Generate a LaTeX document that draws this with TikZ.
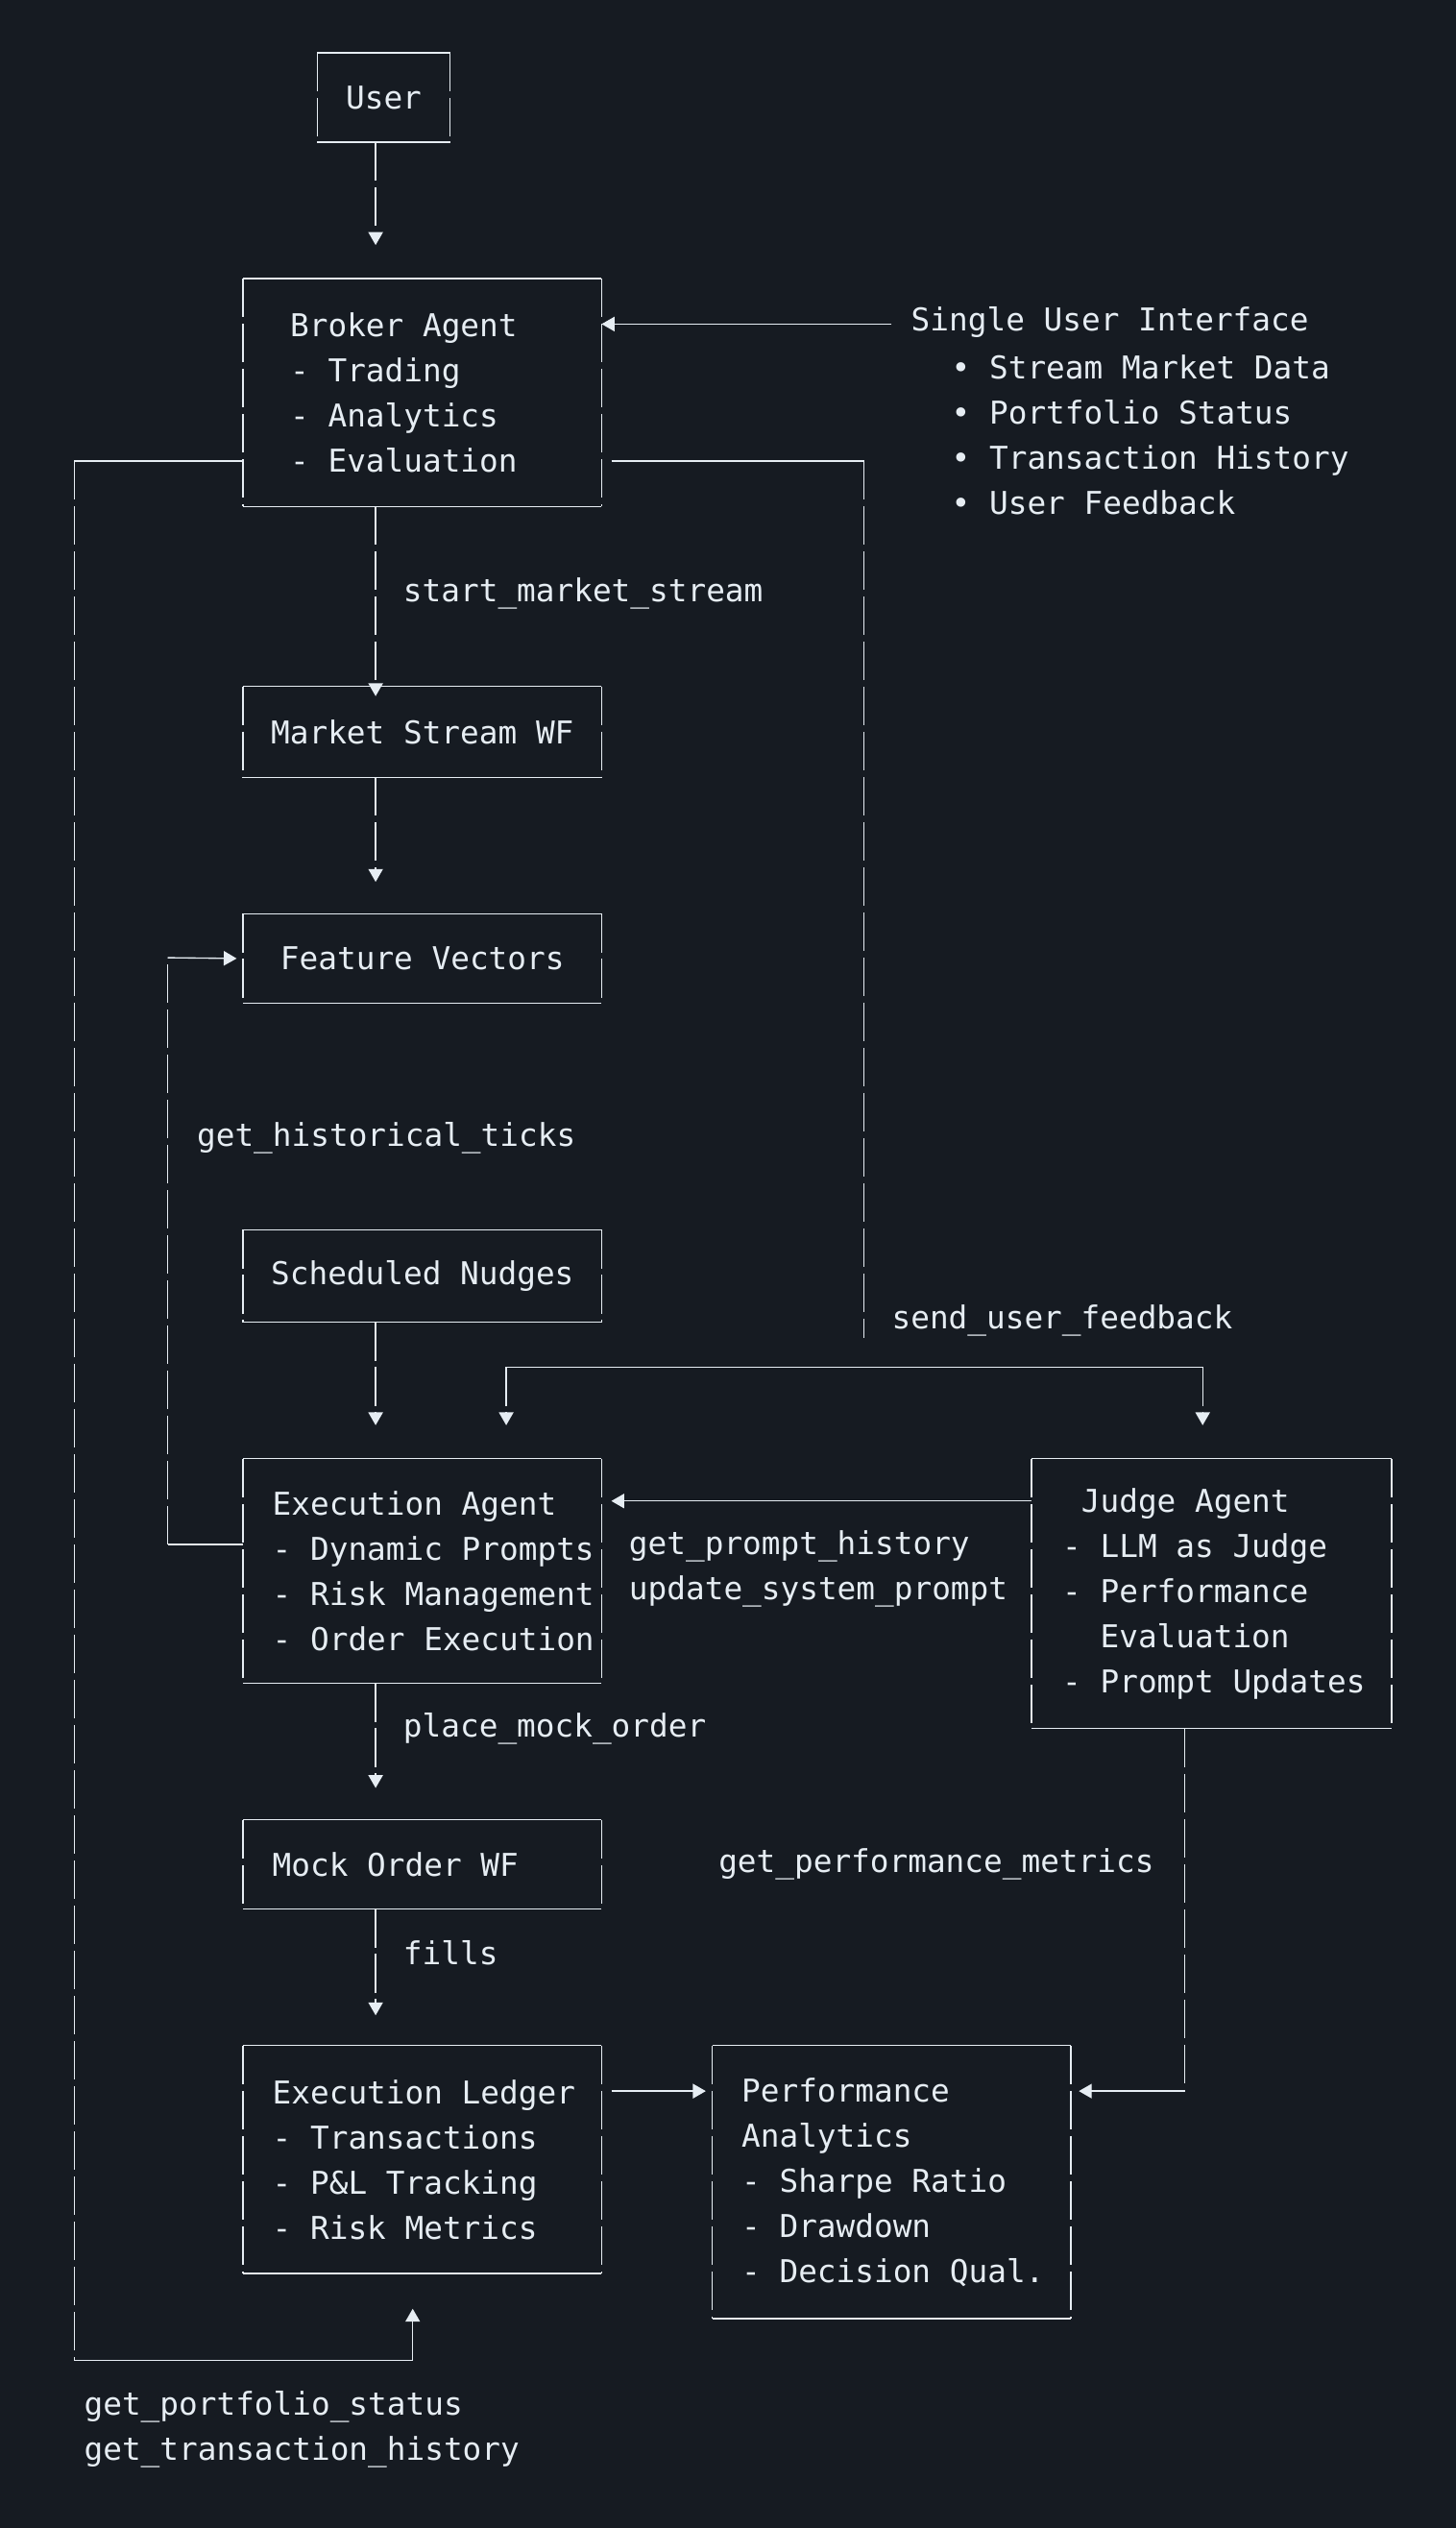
\documentclass[tikz,border=0pt]{standalone}
\usepackage{fontspec}
\setmainfont{DejaVu Sans Mono}
\usetikzlibrary{arrows.meta,positioning}
\definecolor{bg}{HTML}{161B22}
\definecolor{ink}{HTML}{E6EDF3}

\begin{document}
\begin{tikzpicture}[x=1pt,y=-1pt,
    every node/.style={text=ink,font=\fontsize{19.5}{28}\selectfont},
    box/.style={inner sep=0pt},
    txt/.style={align=left,anchor=west,inner sep=0pt},
    lbl/.style={anchor=west,inner sep=0pt},
    vline/.style={draw=ink,thick,dash pattern=on 24pt off 4pt},
    hline/.style={draw=ink,thick},
    tip/.style={-{Triangle[width=9pt,length=8pt]}}
  ]
  \fill[bg] (0,0) rectangle (903,1568);
  \useasboundingbox (0,0) rectangle (903,1568);

  % boxes
  \node[box,minimum width=82pt,minimum height=55pt] (user) at (238,60.5) {User};
  \node[box,minimum width=222pt,minimum height=141pt] (broker) at (262,243.5) {};
  \node[txt] at ([xshift=29pt]broker.west) {Broker Agent\\- Trading\\- Analytics\\- Evaluation};
  \node[box,minimum width=222pt,minimum height=56pt] (market) at (262,454) {Market Stream WF};
  \node[box,minimum width=222pt,minimum height=55pt] (feature) at (262,594.5) {Feature Vectors};
  \node[box,minimum width=222pt,minimum height=57pt] (nudges) at (262,791.5) {Scheduled Nudges};
  \node[box,minimum width=222pt,minimum height=139pt] (exec) at (262,974.5) {};
  \node[txt] at ([xshift=18pt]exec.west) {Execution Agent\\- Dynamic Prompts\\- Risk Management\\- Order Execution};
  \node[box,minimum width=223pt,minimum height=167pt] (judge) at (751.5,988.5) {};
  \node[txt] at ([xshift=19pt]judge.west) {\ Judge Agent\\- LLM as Judge\\- Performance\\\ \ Evaluation\\- Prompt Updates};
  \node[box,minimum width=222pt,minimum height=55pt] (mock) at (262,1156.5) {};
  \node[txt] at ([xshift=18pt]mock.west) {Mock Order WF};
  \node[box,minimum width=222pt,minimum height=141pt] (ledger) at (262,1339.5) {};
  \node[txt] at ([xshift=18pt]ledger.west) {Execution Ledger\\- Transactions\\- P\&L Tracking\\- Risk Metrics};
  \node[box,minimum width=222pt,minimum height=169pt] (perf) at (553,1353.5) {};
  \node[txt] at ([xshift=18pt]perf.west) {Performance\\Analytics\\- Sharpe Ratio\\- Drawdown\\- Decision Qual.};

  \foreach \b in {user,broker,market,feature,nudges,exec,judge,mock,ledger,perf}{
    \draw[hline] (\b.north west) -- (\b.north east) (\b.south west) -- (\b.south east);
    \draw[vline] (\b.north west) -- (\b.south west) (\b.north east) -- (\b.south east);
  }

  % interface note
  \node[lbl] (ui) at (565,200) {Single User Interface};
  \node[txt] (uilist) at (590,270) {• Stream Market Data\\• Portfolio Status\\• Transaction History\\• User Feedback};
  \draw[hline,tip] (ui.west) ++(-12,1) coordinate (uiend) -- (broker.east |- uiend);

  % main flow
  \draw[vline,tip] (user.south -| 233,0) -- (233,152);
  \draw[vline,tip] (233,314) -- ([xshift=-29pt,yshift=-6pt]market.north);
  \node[lbl] at (250,368) {start\_market\_stream};
  \draw[vline,tip] (233,482) -- (233,547);
  \draw[vline,tip] (233,820) -- (233,884);
  \draw[vline,tip] (233,1044) -- (233,1109);
  \node[lbl] at (250,1072) {place\_mock\_order};
  \draw[vline,tip] (233,1184) -- (233,1250);
  \node[lbl] at (250,1211) {fills};
  \draw[hline,tip] ([xshift=6pt]ledger.east |- 0,1297) -- ([xshift=-4pt]perf.west |- 0,1297);

  % feedback loops
  \draw[hline] (broker.west |- 0,286) -- (46,286);
  \draw[vline] (46,286) -- (46,1464);
  \draw[hline] (46,1464) -- (256,1464);
  \draw[vline,tip] (256,1464) -- (256,1432);
  \node[txt] at (52,1507) {get\_portfolio\_status\\get\_transaction\_history};

  \draw[hline] (exec.west |- 0,958) -- (104,958);
  \draw[vline] (104,958) -- (104,594);
  \draw[hline,tip] (104,594) -- ([xshift=-4pt]feature.west);
  \node[lbl] at (122,706) {get\_historical\_ticks};

  \draw[hline] ([xshift=6pt]broker.east |- 0,286) -- (536,286);
  \draw[vline] (536,286) -- (536,830);
  \node[lbl] at (553,819) {send\_user\_feedback};
  \draw[hline] (314,848) -- (746,848);
  \draw[vline,tip] (314,848) -- (314,884);
  \draw[vline,tip] (746,848) -- (746,884);

  \draw[hline,tip] (judge.west |- 0,931) -- ([xshift=6pt]exec.east |- 0,931);
  \node[txt] at (390,973) {get\_prompt\_history\\update\_system\_prompt};

  \draw[vline] (judge.south -| 735,0) -- (735,1297);
  \draw[hline,tip] (735,1297) -- ([xshift=5pt]perf.east |- 0,1297);
  \node[anchor=east,inner sep=0pt] at (716,1156) {get\_performance\_metrics};
\end{tikzpicture}
\end{document}
